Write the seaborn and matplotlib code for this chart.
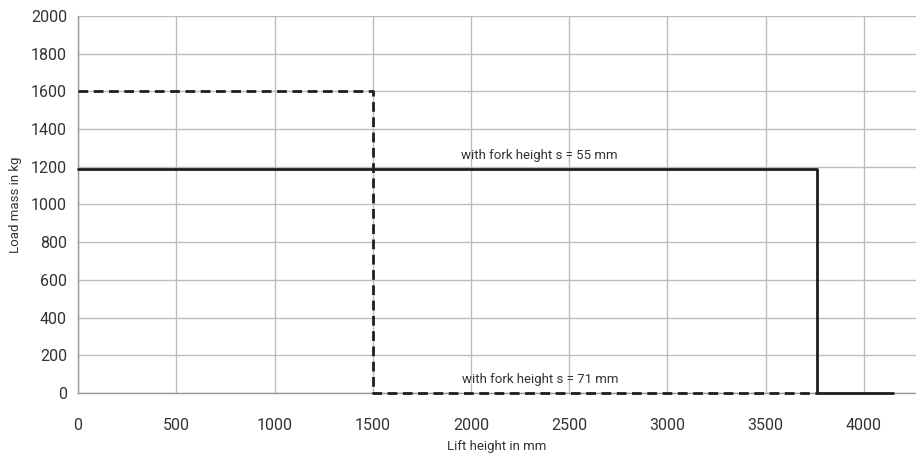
import numpy as np
import pandas as pd
import matplotlib
matplotlib.use("Agg")
import matplotlib.pyplot as plt
import seaborn as sns

# lift height (mm) / load mass (kg) step outlines
lift_55 = [0, 3760, 3760, 4150]
load_55 = [1190, 1190, 0, 0]
lift_71 = [0, 1500, 1500, 3760]
load_71 = [1600, 1600, 0, 0]
x_ticks = [0, 500, 1000, 1500, 2000, 2500, 3000, 3500, 4000]
y_ticks = [0, 200, 400, 600, 800, 1000, 1200, 1400, 1600, 1800, 2000]

sns.set_style("white")
plt.rcParams["font.family"] = ["Roboto", "DejaVu Sans"]

fig = plt.figure(figsize=(9.16, 4.55), dpi=100)
ax = fig.add_axes([0.0852, 0.1363, 0.9148, 0.8285])

df55 = pd.DataFrame({"lift": lift_55, "load": load_55})
df71 = pd.DataFrame({"lift": lift_71, "load": load_71})
sns.lineplot(data=df55, x="lift", y="load", sort=False, estimator=None,
             color="#1e1e1e", linewidth=2, clip_on=False, zorder=5, ax=ax)
sns.lineplot(data=df71, x="lift", y="load", sort=False, estimator=None,
             color="#1e1e1e", linewidth=2, linestyle=(0, (3.5, 2)),
             clip_on=False, zorder=5, ax=ax)

ax.set_xlim(0, 4265)
ax.set_ylim(0, 2000)
ax.set_xticks(x_ticks)
ax.set_yticks(y_ticks)
ax.grid(True, color="#bdbdbd", linewidth=1)
ax.set_axisbelow(True)
ax.tick_params(length=0, labelsize=11.5, colors="#333333")
ax.tick_params(axis="x", pad=18)
ax.tick_params(axis="y", pad=8)
for s in ["top", "right"]:
    ax.spines[s].set_visible(False)
for s in ["left", "bottom"]:
    ax.spines[s].set_color("#999999")
    ax.spines[s].set_linewidth(1)

ax.set_xlabel("Lift height in mm", fontsize=9.5, color="#333333", labelpad=5)
ax.set_ylabel("Load mass in kg", fontsize=9.5, color="#333333", labelpad=6)

ax.text(2350, 1225, "with fork height s = 55 mm", ha="center", va="bottom", fontsize=9.5, color="#333333")
ax.text(2350, 35, "with fork height s = 71 mm", ha="center", va="bottom", fontsize=9.5, color="#333333")

fig.savefig("out.png", dpi=100)
